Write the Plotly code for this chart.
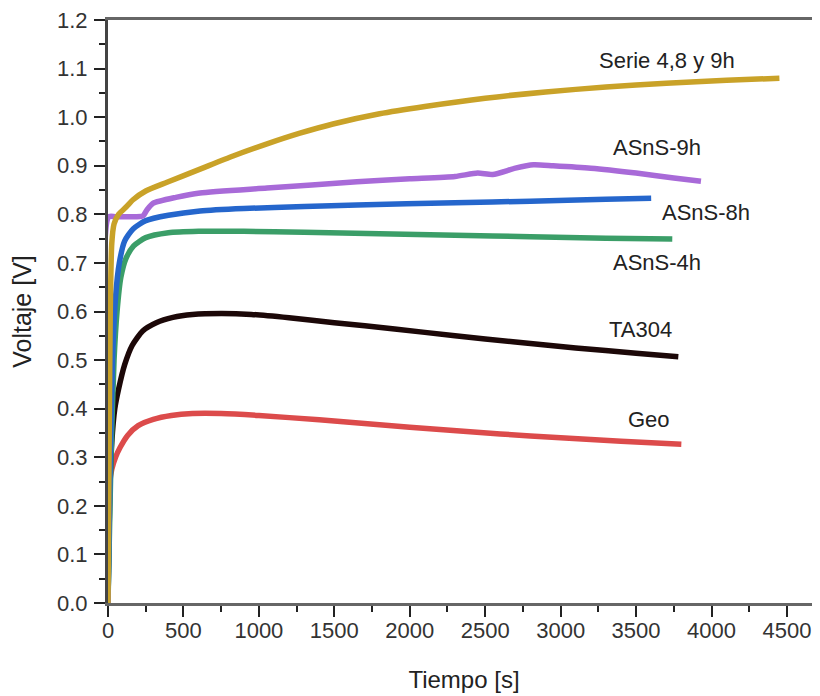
import plotly.graph_objects as go

# ---- data ----
gold_t = [0, 8, 15, 25, 40, 70, 120, 166, 250, 391, 610, 829, 1054, 1272, 1491, 1800, 2100, 2500, 2900, 3300, 3700, 4100, 4450]
gold_v = [0, 0.35, 0.6, 0.74, 0.78, 0.80, 0.815, 0.83, 0.848, 0.866, 0.893, 0.92, 0.945, 0.967, 0.986, 1.007, 1.022, 1.039, 1.052, 1.062, 1.07, 1.076, 1.08]

purple_t = [0, 5, 50, 150, 232, 260, 300, 450, 610, 1054, 1650, 2000, 2300, 2450, 2550, 2700, 2820, 2950, 3200, 3500, 3750, 3930]
purple_v = [0, 0.795, 0.795, 0.795, 0.797, 0.81, 0.823, 0.835, 0.844, 0.854, 0.867, 0.873, 0.878, 0.885, 0.882, 0.895, 0.902, 0.9, 0.895, 0.885, 0.875, 0.868]

blue_t = [0, 15, 30, 50, 75, 110, 166, 250, 400, 610, 900, 1300, 1650, 2300, 2800, 3300, 3600]
blue_v = [0, 0.3, 0.5, 0.63, 0.70, 0.745, 0.77, 0.787, 0.798, 0.807, 0.812, 0.816, 0.819, 0.824, 0.827, 0.831, 0.833]

green_t = [0, 20, 40, 60, 85, 120, 170, 250, 400, 600, 900, 1300, 1800, 2300, 2800, 3300, 3740]
green_v = [0, 0.3, 0.5, 0.6, 0.67, 0.71, 0.735, 0.752, 0.762, 0.765, 0.765, 0.763, 0.76, 0.757, 0.754, 0.751, 0.749]

black_t = [0, 10, 25, 45, 70, 110, 160, 230, 320, 430, 560, 750, 950, 1200, 1500, 1900, 2300, 2700, 3100, 3500, 3780]
black_v = [0, 0.2, 0.33, 0.4, 0.44, 0.49, 0.53, 0.56, 0.577, 0.588, 0.594, 0.596, 0.594, 0.587, 0.577, 0.564, 0.55, 0.537, 0.525, 0.514, 0.507]

red_t = [0, 5, 12, 25, 50, 80, 130, 200, 300, 420, 560, 750, 1000, 1400, 1800, 2200, 2600, 3000, 3400, 3800]
red_v = [0, 0.15, 0.25, 0.275, 0.3, 0.32, 0.345, 0.365, 0.378, 0.386, 0.39, 0.39, 0.386, 0.377, 0.367, 0.357, 0.348, 0.34, 0.333, 0.327]

series = [
    ("Geo", red_t, red_v, "#dc4b4b"),
    ("TA304", black_t, black_v, "#1c0808"),
    ("ASnS-4h", green_t, green_v, "#3b9e68"),
    ("ASnS-8h", blue_t, blue_v, "#2566cc"),
    ("ASnS-9h", purple_t, purple_v, "#a86ad8"),
    ("Serie 4,8 y 9h", gold_t, gold_v, "#c9a228"),
]

labels = ["Serie 4,8 y 9h", "ASnS-9h", "ASnS-8h", "ASnS-4h", "TA304", "Geo"]
label_t = [3705, 3640, 3963, 3640, 3526, 3585]
label_v = [1.116, 0.937, 0.803, 0.70, 0.562, 0.377]

x_ticks = [0, 500, 1000, 1500, 2000, 2500, 3000, 3500, 4000, 4500]
y_ticks = [0.0, 0.1, 0.2, 0.3, 0.4, 0.5, 0.6, 0.7, 0.8, 0.9, 1.0, 1.1, 1.2]

fig = go.Figure()
for name, t, v, c in series:
    fig.add_trace(go.Scatter(x=t, y=v, mode="lines", name=name,
                             line=dict(color=c, width=5.5, shape="spline", smoothing=0.6),
                             showlegend=False))

for txt, t, v in zip(labels, label_t, label_v):
    fig.add_annotation(x=t, y=v, text=txt, showarrow=False,
                       font=dict(size=22, color="#222222", family="Liberation Sans, Arial"),
                       xanchor="center", yanchor="middle")

axis_font = dict(size=22, color="#333333", family="Liberation Sans, Arial")
fig.update_xaxes(
    range=[0, 4719], tickvals=x_ticks, ticktext=[str(v) for v in x_ticks],
    showline=True, linewidth=3, linecolor="#666666", mirror=True,
    ticks="outside", ticklen=11, tickwidth=2, tickcolor="#222222",
    minor=dict(ticks="outside", ticklen=6, tickwidth=2, tickcolor="#222222", dtick=250, tick0=0),
    showgrid=False, zeroline=False, tickfont=axis_font, automargin=False,
    ticklabelstandoff=-5, ticklabeloverflow="allow",
    title=dict(text="Tiempo [s]", font=dict(size=24, color="#222222", family="Liberation Sans, Arial"), standoff=29),
)
fig.update_yaxes(
    range=[0, 1.2], tickvals=y_ticks, ticktext=[f"{v:.1f}" for v in y_ticks],
    showline=True, linewidth=3, linecolor="#444444", mirror=True,
    ticks="outside", ticklen=11, tickwidth=2, tickcolor="#222222",
    minor=dict(ticks="outside", ticklen=6, tickwidth=2, tickcolor="#222222", dtick=0.05, tick0=0),
    showgrid=False, zeroline=False, tickfont=axis_font, automargin=False,
    ticklabelstandoff=2, ticklabeloverflow="allow",
    title=dict(text="Voltaje [V]", font=dict(size=25, color="#222222", family="Liberation Sans, Arial"), standoff=22),
)
fig.update_layout(
    width=820, height=696,
    margin=dict(l=100, r=8, t=12, b=101),
    plot_bgcolor="white", paper_bgcolor="white",
)
fig.write_html("out.html")
